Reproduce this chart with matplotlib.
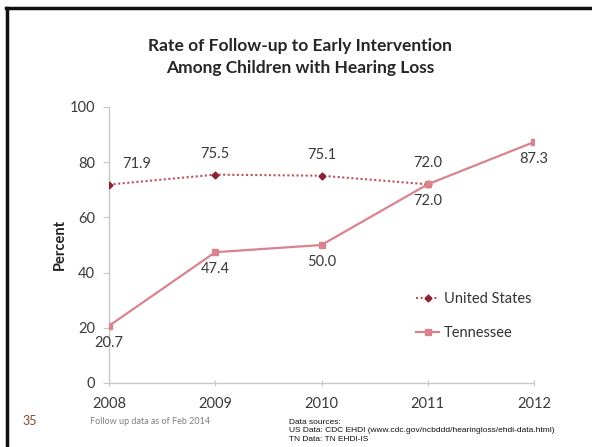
import matplotlib
matplotlib.use("Agg")
import matplotlib.pyplot as plt
from matplotlib.lines import Line2D

years = [2008, 2009, 2010, 2011, 2012]
us_years = [2008, 2009, 2010, 2011]
us_values = [71.9, 75.5, 75.1, 72.0]
tn_values = [20.7, 47.4, 50.0, 72.0, 87.3]
y_ticks = [0, 20, 40, 60, 80, 100]

title = "Rate of Follow-up to Early Intervention\nAmong Children with Hearing Loss"

plt.rcParams['font.family'] = ['Lato', 'DejaVu Sans']
txt = '#3A3A3A'
us_line = '#C0505E'
us_marker = '#8B2332'
tn_color = '#D9838E'

fig = plt.figure(figsize=(5.92, 4.47), dpi=100)
ax = fig.add_axes([109/592, (447-383)/447, (534-109)/592, (383-107)/447])

ax.plot(us_years, us_values, linestyle=(0, (1, 1.2)), color=us_line, lw=1.5,
        marker='D', markersize=3.5, markerfacecolor=us_marker, markeredgecolor=us_marker, zorder=3)
ax.plot(years, tn_values, linestyle='-', color=tn_color, lw=1.6,
        marker='s', markersize=5, markerfacecolor=tn_color, markeredgecolor=tn_color, zorder=3)

for i, (x, v) in enumerate(zip(us_years, us_values)):
    dx = 20 if i == 0 else 0
    ax.annotate(f"{v:.1f}", (x, v), xytext=(dx, 10), textcoords='offset points',
                ha='center', va='bottom', fontsize=10.5, color=txt)
for x, v in zip(years, tn_values):
    ax.annotate(f"{v:.1f}", (x, v), xytext=(0, -7), textcoords='offset points',
                ha='center', va='top', fontsize=10.5, color=txt)

ax.set_xlim(2008, 2012)
ax.set_ylim(0, 100)
ax.set_xticks(years)
ax.set_xticklabels([str(y) for y in years], fontsize=10.5, color=txt)
ax.set_yticks(y_ticks)
ax.set_yticklabels([str(t) for t in y_ticks], fontsize=10.5, color=txt)
for s in ['top', 'right']:
    ax.spines[s].set_visible(False)
for s in ['left', 'bottom']:
    ax.spines[s].set_color('#C8C8C8')
    ax.spines[s].set_linewidth(1.0)
ax.tick_params(axis='both', colors='#C8C8C8', length=4, width=0.8, labelcolor=txt)
ax.tick_params(axis='x', direction='inout', pad=8)
ax.tick_params(axis='y', pad=6)
ax.set_ylabel("Percent", fontsize=10.5, fontweight='bold', color='#222222')
ax.yaxis.set_label_coords((67 - 109) / 425, 0.5)

handles = [Line2D([], [], linestyle=(0, (1, 1.2)), color=us_line, lw=1.5, marker='D', markersize=3.5,
                  markerfacecolor=us_marker, markeredgecolor=us_marker),
           Line2D([], [], linestyle='-', color=tn_color, lw=1.6, marker='s', markersize=5,
                  markerfacecolor=tn_color, markeredgecolor=tn_color)]
leg = fig.legend(handles, ["United States", "Tennessee"], loc='center left',
                 bbox_to_anchor=(403/592, 1 - 316/447), frameon=False, fontsize=10.5,
                 handlelength=1.6, handletextpad=0.3, labelspacing=1.4)
for t in leg.get_texts():
    t.set_color('#333333')

fig.text(300/592, 1 - 57/447, title, ha='center', va='center', fontsize=12.5,
         fontweight='bold', color='#262626', linespacing=1.45)

fig.text(30/592, 1 - 421/447, "35", ha='center', va='center', fontsize=9, color='#7F4A2A')
fig.text(90/592, 1 - 421/447, "Follow up data as of Feb 2014", ha='left', va='center',
         fontsize=6.5, color='#808080')
fig.text(289/592, 1 - 419/447, "Data sources:\nUS Data: CDC EHDI (www.cdc.gov/ncbddd/hearingloss/ehdi-data.html)\nTN Data: TN EHDI-IS",
         ha='left', va='top', fontsize=6, color='#111111', family='Liberation Sans',
         linespacing=1.3, transform=fig.transFigure)

# slide frame (top and left edges)
fig.add_artist(Line2D([6/592, 1], [1 - 7.5/447, 1 - 7.5/447], color='#111111', lw=2.5,
                      transform=fig.transFigure))
fig.add_artist(Line2D([6.5/592, 6.5/592], [0, 1 - 7.5/447], color='#111111', lw=2.5,
                      transform=fig.transFigure))

fig.savefig("out.png", dpi=100)
